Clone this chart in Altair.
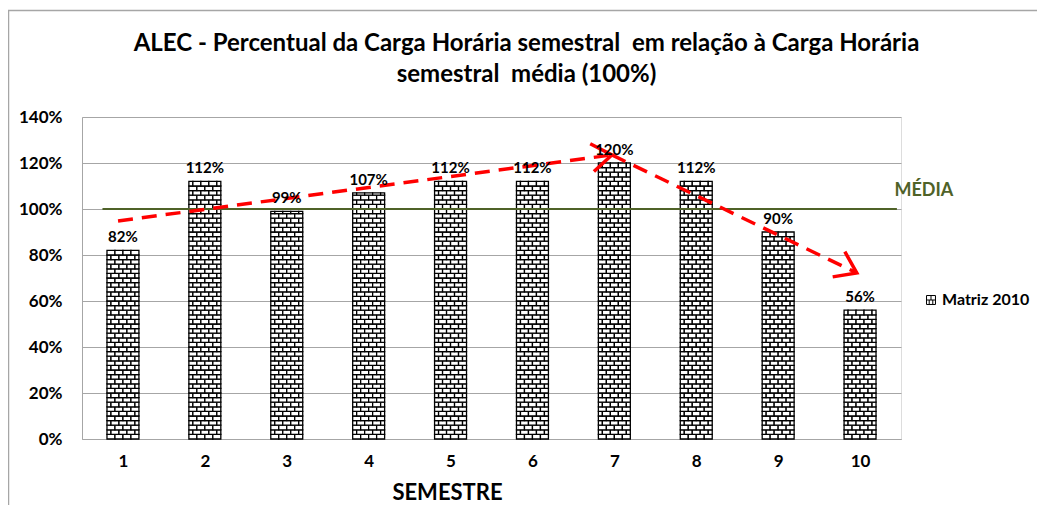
import altair as alt
import pandas as pd

# ---------------- data ----------------
semestres = [1, 2, 3, 4, 5, 6, 7, 8, 9, 10]
percentuais = [82, 112, 99, 107, 112, 112, 120, 112, 90, 56]
rotulos = ["82%", "112%", "99%", "107%", "112%", "112%", "120%", "112%", "90%", "56%"]
x_tick_labels = ["1", "2", "3", "4", "5", "6", "7", "8", "9", "10"]
y_ticks = [0, 20, 40, 60, 80, 100, 120, 140]
serie_nome = "Matriz 2010"

media_valor = 100
media_x = [0.75, 10.45]
media_label = "MÉDIA"
media_label_pos = [10.42, 108]

# red dashed trend arrows (two segments)
seta_seg = ["a", "a", "b", "b"]
seta_x = [0.94, 6.97, 6.97, 9.96]
seta_y = [94.8, 123.5, 123.5, 72.2]

titulo = ["ALEC - Percentual da Carga Horária semestral\u00a0 em relação à Carga Horária",
          "semestral\u00a0 média (100%)"]

FONT = "Lato"
GRAY = "#A6A6A6"
GREEN = "#4F6228"

# ---------------- brick pattern built from the bar values ----------------
half = 0.195          # half bar width (semester units)
brick_w = 2 * half / 4
brick_h = 2.0         # percent units per brick row
bricks = []
for s, v in zip(semestres, percentuais):
    left, right = s - half, s + half
    r = 0
    while r * brick_h < v - 1e-9:
        y0 = r * brick_h
        y1 = min(v, (r + 1) * brick_h)
        x = left - (0 if r % 2 == 0 else brick_w / 2)
        while x < right - 1e-9:
            x0 = max(x, left)
            x1 = min(x + brick_w, right)
            if x1 - x0 > 1e-6:
                bricks.append({"x0": x0, "x1": x1, "y0": y0, "y1": y1, "serie": serie_nome})
            x += brick_w
        r += 1
df_bricks = pd.DataFrame(bricks)

df_bars = pd.DataFrame({"semestre": semestres, "pct": percentuais, "rotulo": rotulos})
df_media = pd.DataFrame({"x": media_x, "y": [media_valor] * len(media_x)})
df_seta = pd.DataFrame({"seg": seta_seg, "x": seta_x, "y": seta_y})
df_mlabel = pd.DataFrame({"x": [media_label_pos[0]], "y": [media_label_pos[1]], "t": [media_label]})

xs = alt.Scale(domain=[0.5, 10.5], nice=False, zero=False)
ys = alt.Scale(domain=[0, 140], nice=False)

label_expr_x = "[" + ",".join("'%s'" % t for t in x_tick_labels) + "][datum.value - 1]"

x_axis = alt.Axis(values=semestres, labelExpr=label_expr_x, grid=False, ticks=False,
                  domainColor=GRAY, labelFont=FONT, labelFontSize=17, labelFontWeight="bold",
                  labelColor="black", labelPadding=14, title="SEMESTRE", titleFont=FONT,
                  titleFontSize=22, titleFontWeight="bold", titleColor="black",
                  titleX=365, titleY=53, titleAlign="center", titleBaseline="middle",
                  titleAnchor="start")
y_axis = alt.Axis(values=y_ticks, labelExpr="datum.value + '%'", ticks=False, grid=True,
                  gridColor=GRAY, domainColor=GRAY, labelFont=FONT, labelFontSize=17,
                  labelFontWeight="bold", labelColor="black", labelPadding=20, title=None)

brick_path = "M-1,-1H1V1H-1Z M-1,0H1 M0,-1V0 M-0.4,0V1 M0.4,0V1"

bars = alt.Chart(df_bricks).mark_rect(fill="white", strokeWidth=1.3).encode(
    x=alt.X("x0:Q", scale=xs, axis=x_axis),
    x2="x1:Q",
    y=alt.Y("y0:Q", scale=ys, axis=y_axis),
    y2="y1:Q",
    stroke=alt.Stroke("serie:N", scale=alt.Scale(range=["black"]),
                      legend=alt.Legend(title=None, orient="none", legendX=841, legendY=175,
                                        symbolType=brick_path, symbolSize=80,
                                        symbolFillColor="white", symbolStrokeWidth=1,
                                        labelFont=FONT, labelFontSize=16, labelFontWeight="bold",
                                        labelColor="black", padding=0, labelOffset=3)),
)

labels = alt.Chart(df_bars).mark_text(font=FONT, fontSize=15, fontWeight="bold",
                                      color="black", baseline="bottom", dy=-5).encode(
    x=alt.X("semestre:Q", scale=xs), y=alt.Y("pct:Q", scale=ys), text="rotulo:N")

media = alt.Chart(df_media).mark_line(color=GREEN, strokeWidth=2).encode(
    x=alt.X("x:Q", scale=xs), y=alt.Y("y:Q", scale=ys))

media_txt = alt.Chart(df_mlabel).mark_text(font=FONT, fontSize=18, fontWeight="bold",
                                           color=GREEN, align="left", baseline="middle").encode(
    x=alt.X("x:Q", scale=xs), y=alt.Y("y:Q", scale=ys), text="t:N")

seta = alt.Chart(df_seta).mark_line(color="#FF0000", strokeWidth=3.5,
                                    strokeDash=[15, 9], strokeCap="butt").encode(
    x=alt.X("x:Q", scale=xs), y=alt.Y("y:Q", scale=ys), detail="seg:N")

chevron = "M-1,-0.7L0,0L-1,0.7"
tip_a = df_seta.iloc[[1]]
tip_b = df_seta.iloc[[3]]
head_a = alt.Chart(tip_a).mark_point(shape=chevron, size=1600, filled=False, color="#FF0000",
                                     strokeWidth=3.5, angle=352.4, opacity=1).encode(
    x=alt.X("x:Q", scale=xs), y=alt.Y("y:Q", scale=ys))
head_b = alt.Chart(tip_b).mark_point(shape=chevron, size=1600, filled=False, color="#FF0000",
                                     strokeWidth=3.5, angle=25.7, opacity=1).encode(
    x=alt.X("x:Q", scale=xs), y=alt.Y("y:Q", scale=ys))

frame = alt.Chart(pd.DataFrame({"a": [0]})).mark_rect(fillOpacity=0, stroke=GRAY,
                                                      strokeWidth=1.5).encode(
    x=alt.value(-73.5), x2=alt.value(2000), y=alt.value(-106.5), y2=alt.value(2000))

chart = alt.layer(frame, bars, media, seta, head_a, head_b, labels, media_txt).properties(
    width=819, height=322,
    title=alt.TitleParams(titulo, font=FONT, fontSize=24, fontWeight="bold", color="black",
                          anchor="middle", dx=35, offset=-77, lineHeight=31),
    autosize=alt.AutoSizeParams(type="none"),
    padding={"left": 74, "top": 109, "right": 136, "bottom": 66},
).configure_view(stroke=None).configure(background="white")

chart.save("out.html", embed_options={"renderer": "svg", "actions": False})
